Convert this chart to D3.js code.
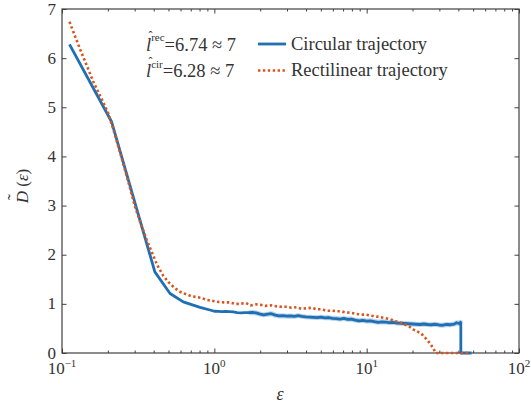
<!DOCTYPE html>
<html>
<head>
<meta charset="utf-8">
<script src="https://cdn.jsdelivr.net/npm/d3@7"></script>
<style>
  html, body { margin: 0; padding: 0; background: #fff; }
  svg { display: block; }
</style>
</head>
<body>
<svg id="chart" width="531" height="406"></svg>
<script>
// ---------------- data ----------------
const seriesNames = ["Circular trajectory", "Rectilinear trajectory"];
const legendNotes = [
  { sym: "l", sup: "rec", rest: "=6.74 \u2248 7" },
  { sym: "l", sup: "cir", rest: "=6.28 \u2248 7" }
];
const yTickValues = [0, 1, 2, 3, 4, 5, 6, 7];
const xMajorExponents = [-1, 0, 1, 2];

const circularX = [0.112, 0.212, 0.407, 0.512, 0.625, 0.806, 0.936,
  1.00, 1.06, 1.12, 1.19, 1.26, 1.33, 1.41, 1.50, 1.58, 1.68, 1.78, 1.88,
  2.00, 2.11, 2.24, 2.37, 2.51, 2.66, 2.82, 2.99, 3.16, 3.35, 3.55, 3.76,
  3.98, 4.22, 4.47, 4.73, 5.01, 5.31, 5.62, 5.96, 6.31, 6.68, 7.08, 7.50,
  7.94, 8.41, 8.91, 9.44, 10.0, 10.6, 11.2, 11.9, 12.6, 13.3, 14.1, 15.0,
  15.8, 16.8, 17.8, 18.8, 20.0, 21.1, 22.4, 23.7, 25.1, 26.6, 28.2, 29.9,
  31.6, 33.5, 35.5, 37.6, 39.0, 40.4, 41.3, 41.5, 41.5, 48.8];
const circularY = [6.28, 4.70, 1.65, 1.21, 1.04, 0.93, 0.875,
  0.85, 0.845, 0.84, 0.845, 0.84, 0.835, 0.82, 0.815, 0.82, 0.82, 0.825, 0.815,
  0.79, 0.775, 0.79, 0.80, 0.77, 0.755, 0.76, 0.75, 0.755, 0.745, 0.76, 0.745,
  0.735, 0.73, 0.725, 0.72, 0.73, 0.715, 0.72, 0.705, 0.70, 0.69, 0.705, 0.685,
  0.69, 0.67, 0.655, 0.665, 0.65, 0.655, 0.64, 0.625, 0.635, 0.63, 0.62, 0.625,
  0.61, 0.605, 0.60, 0.595, 0.59, 0.585, 0.58, 0.59, 0.58, 0.575, 0.585, 0.57,
  0.565, 0.58, 0.575, 0.59, 0.615, 0.60, 0.625, 0.60, 0.0, 0.0];

const rectilinearX = [0.112, 0.13, 0.16, 0.20, 0.22, 0.25, 0.28, 0.30, 0.33,
  0.36, 0.39, 0.42, 0.46, 0.50, 0.55, 0.60, 0.70, 0.825, 0.898, 0.983, 1.061,
  1.156, 1.265, 1.365, 1.472, 1.604, 1.729, 1.874, 2.02, 2.17, 2.35, 2.56,
  2.76, 3.01, 3.21, 3.47, 3.74, 4.03, 4.35, 4.69, 5.06, 5.46, 5.89, 6.35,
  6.74, 7.19, 7.76, 8.15, 8.79, 9.39, 9.98, 10.66, 11.3, 12.2, 13.2, 14.2,
  15.3, 16.5, 17.8, 19.0, 20.2, 21.4, 22.9, 24.4, 26.0, 27.3, 28.4, 48.1];
const rectilinearY = [6.74, 6.22, 5.53, 4.90, 4.50, 3.90, 3.35, 3.00, 2.62,
  2.30, 2.04, 1.80, 1.58, 1.44, 1.32, 1.24, 1.16, 1.12, 1.08, 1.06, 1.04,
  1.03, 1.03, 1.00, 1.00, 1.02, 0.97, 0.99, 0.98, 0.96, 0.97, 0.95,
  0.94, 0.94, 0.92, 0.93, 0.90, 0.91, 0.92, 0.89, 0.89, 0.86, 0.86, 0.85,
  0.85, 0.83, 0.82, 0.81, 0.79, 0.78, 0.78, 0.76, 0.75, 0.73, 0.71, 0.69,
  0.65, 0.62, 0.58, 0.54, 0.48, 0.44, 0.39, 0.30, 0.20, 0.10, 0.0, 0.0];

// ---------------- layout ----------------
const FONT = '"Liberation Serif", "Times New Roman", Tinos, serif';
const TXT = "#333";
const svg = d3.select("#chart");
const L = 62, R = 519, T = 9, B = 353;
const x = d3.scaleLog().domain([0.1, 100]).range([L, R]);
const y = d3.scaleLinear().domain([0, 7]).range([B, T]);
const axisColor = "#404040";
const blue = "#1f6fb4";
const red = "#d9541e";

function txt(sel) { return sel.style("font-family", FONT).attr("fill", TXT); }

const minorTicks = [];
for (let e = -1; e < 2; e++) for (let k = 2; k <= 9; k++) minorTicks.push(k * Math.pow(10, e));
const majorTicks = xMajorExponents.map(e => Math.pow(10, e));

function styleAxis(g) {
  g.select(".domain").remove();
  g.selectAll(".tick line").attr("stroke", axisColor).attr("stroke-width", 1);
  g.selectAll(".tick text").remove();
}

svg.append("g").attr("transform", `translate(0,${B})`)
  .call(d3.axisBottom(x).tickValues(majorTicks).tickSize(-4.5).tickFormat(() => "")).call(styleAxis);
svg.append("g").attr("transform", `translate(0,${B})`)
  .call(d3.axisBottom(x).tickValues(minorTicks).tickSize(-2.5).tickFormat(() => "")).call(styleAxis);
svg.append("g").attr("transform", `translate(0,${T})`)
  .call(d3.axisTop(x).tickValues(majorTicks).tickSize(-4.5).tickFormat(() => "")).call(styleAxis);
svg.append("g").attr("transform", `translate(0,${T})`)
  .call(d3.axisTop(x).tickValues(minorTicks).tickSize(-2.5).tickFormat(() => "")).call(styleAxis);
svg.append("g").attr("transform", `translate(${L},0)`)
  .call(d3.axisLeft(y).tickValues(yTickValues).tickSize(-4.5).tickFormat(() => "")).call(styleAxis);
svg.append("g").attr("transform", `translate(${R},0)`)
  .call(d3.axisRight(y).tickValues(yTickValues).tickSize(-4.5).tickFormat(() => "")).call(styleAxis);

svg.append("rect").attr("x", L).attr("y", T).attr("width", R - L).attr("height", B - T)
  .attr("fill", "none").attr("stroke", axisColor).attr("stroke-width", 1.2);

svg.append("g").selectAll("text").data(yTickValues).join("text")
  .attr("x", L - 6).attr("y", d => y(d) + 5.5)
  .attr("text-anchor", "end").attr("font-size", 17).text(d => d).call(txt);

const xl = svg.append("g").selectAll("text").data(xMajorExponents).join("text")
  .attr("x", d => x(Math.pow(10, d))).attr("y", B + 21)
  .attr("text-anchor", "middle").attr("font-size", 17).call(txt);
xl.append("tspan").text("10");
xl.append("tspan").attr("font-size", 11).attr("dy", -7)
  .text(d => d < 0 ? "\u2212" + Math.abs(d) : String(d));

svg.append("text").attr("x", 280).attr("y", 400).attr("text-anchor", "middle")
  .attr("font-size", 18).attr("font-style", "italic").text("\u03b5").call(txt);

const yl = svg.append("text").attr("transform", "translate(28,186) rotate(-90)")
  .attr("text-anchor", "middle").attr("font-size", 17).call(txt);
yl.append("tspan").attr("font-style", "italic").text("D");
yl.append("tspan").text(" (");
yl.append("tspan").attr("font-style", "italic").text("\u03b5");
yl.append("tspan").text(")");
svg.append("text").attr("transform", "translate(21,197) rotate(-90)")
  .attr("text-anchor", "middle").attr("font-size", 18).text("\u02dc").call(txt);

const line = d3.line().x(d => x(d[0])).y(d => y(d[1]));
const circ = circularX.map((v, i) => [v, circularY[i]]);
const rect = rectilinearX.map((v, i) => [v, rectilinearY[i]]);

// faint halo imitating the fine noise of the circular series
svg.append("path").datum(circ.filter(d => d[0] >= 1.6 && d[1] > 0)).attr("d", line)
  .attr("fill", "none").attr("stroke", blue).attr("stroke-opacity", 0.3)
  .attr("stroke-width", 5).attr("stroke-linejoin", "round");
svg.append("path").datum(circ).attr("d", line)
  .attr("fill", "none").attr("stroke", blue).attr("stroke-width", 2.8)
  .attr("stroke-linejoin", "round");
svg.append("path").datum(rect).attr("d", line)
  .attr("fill", "none").attr("stroke", red).attr("stroke-width", 2.6)
  .attr("stroke-dasharray", "2.4,2.5");

const notes = svg.append("g");
legendNotes.forEach((n, i) => {
  const by = 50.5 + i * 26.5;
  const t = notes.append("text").attr("x", 146).attr("y", by).attr("font-size", 18.5).call(txt);
  t.append("tspan").attr("font-style", "italic").text(n.sym);
  t.append("tspan").attr("font-size", 11).attr("dy", -9.5).text(n.sup);
  t.append("tspan").attr("dy", 9.5).text(n.rest);
  notes.append("text").attr("x", 150.5).attr("y", by - 11).attr("text-anchor", "middle")
    .attr("font-size", 12).text("\u02c6").call(txt);
});

const lg = svg.append("g");
seriesNames.forEach((name, i) => {
  const cy = 44 + i * 26.5;
  lg.append("line").attr("x1", 258).attr("x2", 286).attr("y1", cy).attr("y2", cy)
    .attr("stroke", i === 0 ? blue : red).attr("stroke-width", i === 0 ? 2.8 : 2.6)
    .attr("stroke-dasharray", i === 0 ? null : "2.4,2.5");
  lg.append("text").attr("x", 291).attr("y", cy + 5.5).attr("font-size", 18.5).text(name).call(txt);
});
</script>
</body>
</html>
